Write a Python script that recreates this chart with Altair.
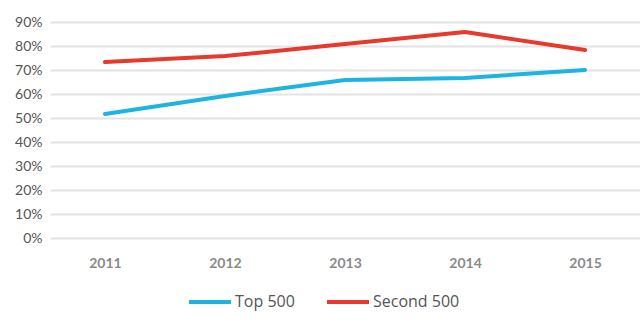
import altair as alt
import pandas as pd

years = ["2011", "2012", "2013", "2014", "2015"]
top500 = [0.517, 0.592, 0.658, 0.667, 0.700]
second500 = [0.733, 0.758, 0.808, 0.858, 0.783]
series = ["Top 500", "Second 500"]
colors = ["#1EB4E2", "#E8392B"]

rows = []
for name, vals in zip(series, [top500, second500]):
    for y, v in zip(years, vals):
        rows.append({"year": y, "value": v, "series": name})
df = pd.DataFrame(rows)

chart = alt.Chart(df).mark_line(strokeWidth=4, strokeCap="round", strokeJoin="round").encode(
    x=alt.X("year:O", scale=alt.Scale(type="point", padding=0.458),
            axis=alt.Axis(title=None, labelAngle=0, domain=False, ticks=False, grid=False,
                          labelPadding=18, labelFontSize=14, labelFontWeight="bold",
                          labelColor="#8a8a8a", labelFont="Lato")),
    y=alt.Y("value:Q", scale=alt.Scale(domain=[0, 0.9]),
            axis=alt.Axis(title=None, format=".0%", values=[i / 10 for i in range(10)],
                          domain=False, ticks=False, gridColor="#e3e3e3", gridWidth=2,
                          labelPadding=8, labelFontSize=14, labelColor="#555555",
                          labelFont="Lato")),
    color=alt.Color("series:N", scale=alt.Scale(domain=series, range=colors),
                    legend=alt.Legend(title=None, orient="none", direction="horizontal",
                                      legendX=137, legendY=257,
                                      symbolType="stroke", symbolSize=1764,
                                      symbolStrokeWidth=4, labelFontSize=16,
                                      labelColor="#555555", labelFont="Open Sans",
                                      columnPadding=24, labelOffset=2)),
).properties(
    width=590, height=216,
    autosize=alt.AutoSizeParams(type="none"),
    padding={"left": 50, "top": 22, "right": 0, "bottom": 95},
).configure_view(stroke=None)

chart.save("out.html", embed_options={"renderer": "svg", "actions": False})
